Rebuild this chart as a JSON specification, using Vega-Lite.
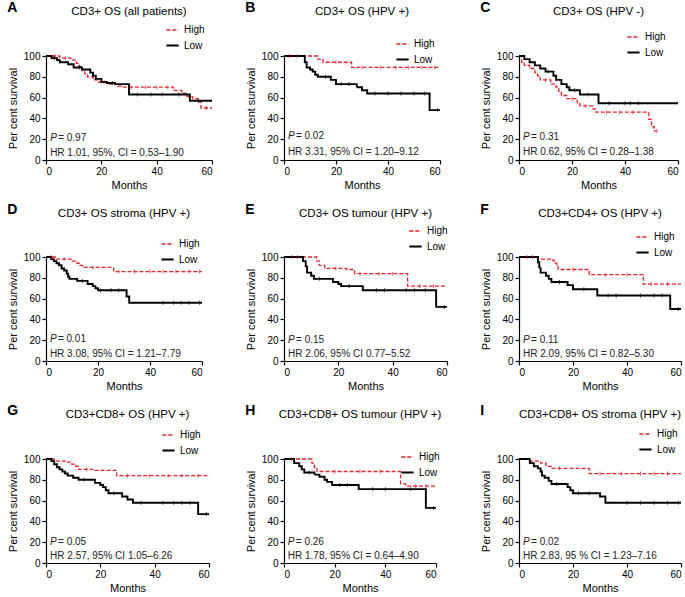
{
"$schema":"https://vega.github.io/schema/vega-lite/v6.json",
"background":"white",
"padding":{"left":7,"top":0,"right":0,"bottom":2},
"columns":3,
"spacing":{"row":12,"column":29},
"resolve":{"scale":{"color":"independent","strokeDash":"independent","strokeWidth":"independent","fill":"independent","x":"independent","y":"independent"},"legend":{"color":"independent","strokeDash":"independent","strokeWidth":"independent"}},
"datasets":{
"km":[
{"p":"A","g":"High","m":0,"s":100},{"p":"A","g":"High","m":5,"s":98},{"p":"A","g":"High","m":9,"s":96},{"p":"A","g":"High","m":11,"s":93},{"p":"A","g":"High","m":12,"s":90},{"p":"A","g":"High","m":13,"s":86},{"p":"A","g":"High","m":14,"s":83},{"p":"A","g":"High","m":15,"s":80},{"p":"A","g":"High","m":17,"s":77},{"p":"A","g":"High","m":19,"s":75},{"p":"A","g":"High","m":23,"s":73},{"p":"A","g":"High","m":26,"s":71},{"p":"A","g":"High","m":28,"s":70},{"p":"A","g":"High","m":46,"s":67},{"p":"A","g":"High","m":49,"s":64},{"p":"A","g":"High","m":51,"s":61},{"p":"A","g":"High","m":53,"s":59},{"p":"A","g":"High","m":55,"s":56},{"p":"A","g":"High","m":56,"s":50},{"p":"A","g":"High","m":60,"s":50},
{"p":"A","g":"Low","m":0,"s":100},{"p":"A","g":"Low","m":2,"s":98},{"p":"A","g":"Low","m":4,"s":96},{"p":"A","g":"Low","m":5,"s":94},{"p":"A","g":"Low","m":8,"s":92},{"p":"A","g":"Low","m":10,"s":89},{"p":"A","g":"Low","m":13,"s":87},{"p":"A","g":"Low","m":16,"s":84},{"p":"A","g":"Low","m":17,"s":81},{"p":"A","g":"Low","m":18,"s":78},{"p":"A","g":"Low","m":20,"s":75},{"p":"A","g":"Low","m":22,"s":74},{"p":"A","g":"Low","m":25,"s":73},{"p":"A","g":"Low","m":30,"s":63},{"p":"A","g":"Low","m":52,"s":57},{"p":"A","g":"Low","m":60,"s":57},
{"p":"B","g":"High","m":0,"s":100},{"p":"B","g":"High","m":13,"s":97},{"p":"B","g":"High","m":15,"s":94},{"p":"B","g":"High","m":26,"s":89},{"p":"B","g":"High","m":60,"s":89},
{"p":"B","g":"Low","m":0,"s":100},{"p":"B","g":"Low","m":8,"s":94},{"p":"B","g":"Low","m":8.7,"s":89},{"p":"B","g":"Low","m":10,"s":87},{"p":"B","g":"Low","m":11,"s":85},{"p":"B","g":"Low","m":12,"s":82},{"p":"B","g":"Low","m":13,"s":80},{"p":"B","g":"Low","m":18,"s":77},{"p":"B","g":"Low","m":20,"s":73},{"p":"B","g":"Low","m":28,"s":70},{"p":"B","g":"Low","m":30,"s":67},{"p":"B","g":"Low","m":32,"s":64},{"p":"B","g":"Low","m":56,"s":48},{"p":"B","g":"Low","m":60,"s":48},
{"p":"C","g":"High","m":0,"s":100},{"p":"C","g":"High","m":1,"s":94},{"p":"C","g":"High","m":2,"s":91},{"p":"C","g":"High","m":4,"s":88},{"p":"C","g":"High","m":6,"s":84},{"p":"C","g":"High","m":7,"s":81},{"p":"C","g":"High","m":8,"s":77},{"p":"C","g":"High","m":12,"s":73},{"p":"C","g":"High","m":14,"s":70},{"p":"C","g":"High","m":15,"s":66},{"p":"C","g":"High","m":16,"s":62},{"p":"C","g":"High","m":18,"s":59},{"p":"C","g":"High","m":22,"s":55},{"p":"C","g":"High","m":23,"s":52},{"p":"C","g":"High","m":28,"s":49},{"p":"C","g":"High","m":29,"s":46},{"p":"C","g":"High","m":49,"s":39},{"p":"C","g":"High","m":50,"s":32},{"p":"C","g":"High","m":51,"s":28},{"p":"C","g":"High","m":52,"s":28},
{"p":"C","g":"Low","m":0,"s":100},{"p":"C","g":"Low","m":2,"s":97},{"p":"C","g":"Low","m":4,"s":94},{"p":"C","g":"Low","m":6,"s":91},{"p":"C","g":"Low","m":8,"s":88},{"p":"C","g":"Low","m":10,"s":85},{"p":"C","g":"Low","m":13,"s":81},{"p":"C","g":"Low","m":14,"s":77},{"p":"C","g":"Low","m":16,"s":73},{"p":"C","g":"Low","m":18,"s":70},{"p":"C","g":"Low","m":19,"s":67},{"p":"C","g":"Low","m":23,"s":63},{"p":"C","g":"Low","m":30,"s":54.5},{"p":"C","g":"Low","m":60,"s":54.5},
{"p":"D","g":"High","m":0,"s":100},{"p":"D","g":"High","m":4,"s":98},{"p":"D","g":"High","m":10,"s":96},{"p":"D","g":"High","m":12,"s":94},{"p":"D","g":"High","m":13,"s":92},{"p":"D","g":"High","m":14,"s":90},{"p":"D","g":"High","m":26,"s":86},{"p":"D","g":"High","m":60,"s":86},
{"p":"D","g":"Low","m":0,"s":100},{"p":"D","g":"Low","m":2,"s":98},{"p":"D","g":"Low","m":3,"s":96},{"p":"D","g":"Low","m":4,"s":94},{"p":"D","g":"Low","m":5,"s":92},{"p":"D","g":"Low","m":6,"s":89},{"p":"D","g":"Low","m":7,"s":87},{"p":"D","g":"Low","m":8,"s":84},{"p":"D","g":"Low","m":8.5,"s":81},{"p":"D","g":"Low","m":9,"s":79},{"p":"D","g":"Low","m":12,"s":77},{"p":"D","g":"Low","m":16,"s":74},{"p":"D","g":"Low","m":18,"s":72},{"p":"D","g":"Low","m":19,"s":70},{"p":"D","g":"Low","m":20,"s":68},{"p":"D","g":"Low","m":31,"s":62},{"p":"D","g":"Low","m":32,"s":56},{"p":"D","g":"Low","m":60,"s":56},
{"p":"E","g":"High","m":0,"s":100},{"p":"E","g":"High","m":12,"s":96},{"p":"E","g":"High","m":13,"s":92},{"p":"E","g":"High","m":15,"s":89},{"p":"E","g":"High","m":23,"s":88},{"p":"E","g":"High","m":26,"s":84},{"p":"E","g":"High","m":45.5,"s":72},{"p":"E","g":"High","m":60,"s":72},
{"p":"E","g":"Low","m":0,"s":100},{"p":"E","g":"Low","m":7,"s":96},{"p":"E","g":"Low","m":8,"s":91},{"p":"E","g":"Low","m":8.5,"s":85},{"p":"E","g":"Low","m":10,"s":82},{"p":"E","g":"Low","m":11,"s":79},{"p":"E","g":"Low","m":18,"s":76},{"p":"E","g":"Low","m":20,"s":74},{"p":"E","g":"Low","m":21,"s":72},{"p":"E","g":"Low","m":29,"s":68},{"p":"E","g":"Low","m":56,"s":52},{"p":"E","g":"Low","m":60,"s":52},
{"p":"F","g":"High","m":0,"s":100},{"p":"F","g":"High","m":7,"s":98},{"p":"F","g":"High","m":12,"s":97},{"p":"F","g":"High","m":13,"s":94},{"p":"F","g":"High","m":14,"s":91},{"p":"F","g":"High","m":14.5,"s":88},{"p":"F","g":"High","m":26,"s":83},{"p":"F","g":"High","m":46,"s":74},{"p":"F","g":"High","m":60,"s":74},
{"p":"F","g":"Low","m":0,"s":100},{"p":"F","g":"Low","m":7,"s":95},{"p":"F","g":"Low","m":7.5,"s":90},{"p":"F","g":"Low","m":8,"s":85},{"p":"F","g":"Low","m":10,"s":82},{"p":"F","g":"Low","m":11,"s":79},{"p":"F","g":"Low","m":12,"s":76},{"p":"F","g":"Low","m":18,"s":73},{"p":"F","g":"Low","m":20,"s":69},{"p":"F","g":"Low","m":29,"s":63},{"p":"F","g":"Low","m":56,"s":50},{"p":"F","g":"Low","m":60,"s":50},
{"p":"G","g":"High","m":0,"s":100},{"p":"G","g":"High","m":3,"s":98},{"p":"G","g":"High","m":7,"s":97},{"p":"G","g":"High","m":9,"s":95},{"p":"G","g":"High","m":11,"s":93},{"p":"G","g":"High","m":12,"s":90},{"p":"G","g":"High","m":18,"s":89},{"p":"G","g":"High","m":26,"s":84},{"p":"G","g":"High","m":60,"s":84},
{"p":"G","g":"Low","m":0,"s":100},{"p":"G","g":"Low","m":2,"s":98},{"p":"G","g":"Low","m":3,"s":95},{"p":"G","g":"Low","m":4,"s":92},{"p":"G","g":"Low","m":5,"s":90},{"p":"G","g":"Low","m":6,"s":88},{"p":"G","g":"Low","m":7,"s":86},{"p":"G","g":"Low","m":8,"s":84},{"p":"G","g":"Low","m":10,"s":82},{"p":"G","g":"Low","m":12,"s":80},{"p":"G","g":"Low","m":18,"s":77},{"p":"G","g":"Low","m":20,"s":75},{"p":"G","g":"Low","m":21,"s":73},{"p":"G","g":"Low","m":22,"s":70},{"p":"G","g":"Low","m":23,"s":67},{"p":"G","g":"Low","m":28,"s":64},{"p":"G","g":"Low","m":30,"s":61},{"p":"G","g":"Low","m":32,"s":58},{"p":"G","g":"Low","m":56,"s":47},{"p":"G","g":"Low","m":60,"s":47},
{"p":"H","g":"High","m":0,"s":100},{"p":"H","g":"High","m":11,"s":96},{"p":"H","g":"High","m":12,"s":92},{"p":"H","g":"High","m":13,"s":88},{"p":"H","g":"High","m":46,"s":76},{"p":"H","g":"High","m":48,"s":74},{"p":"H","g":"High","m":60,"s":74},
{"p":"H","g":"Low","m":0,"s":100},{"p":"H","g":"Low","m":4,"s":96},{"p":"H","g":"Low","m":6,"s":93},{"p":"H","g":"Low","m":7,"s":90},{"p":"H","g":"Low","m":8,"s":87},{"p":"H","g":"Low","m":12,"s":85},{"p":"H","g":"Low","m":14,"s":83},{"p":"H","g":"Low","m":16,"s":80},{"p":"H","g":"Low","m":17,"s":78},{"p":"H","g":"Low","m":19,"s":75},{"p":"H","g":"Low","m":29.5,"s":71},{"p":"H","g":"Low","m":56,"s":53},{"p":"H","g":"Low","m":60,"s":53},
{"p":"I","g":"High","m":0,"s":100},{"p":"I","g":"High","m":4,"s":98},{"p":"I","g":"High","m":8,"s":96},{"p":"I","g":"High","m":10,"s":93},{"p":"I","g":"High","m":12,"s":91},{"p":"I","g":"High","m":26,"s":86},{"p":"I","g":"High","m":60,"s":86},
{"p":"I","g":"Low","m":0,"s":100},{"p":"I","g":"Low","m":4,"s":96},{"p":"I","g":"Low","m":5.5,"s":93},{"p":"I","g":"Low","m":7,"s":91},{"p":"I","g":"Low","m":8,"s":88},{"p":"I","g":"Low","m":8.5,"s":84},{"p":"I","g":"Low","m":9.5,"s":82},{"p":"I","g":"Low","m":11,"s":79},{"p":"I","g":"Low","m":12,"s":76},{"p":"I","g":"Low","m":18,"s":73},{"p":"I","g":"Low","m":19,"s":70},{"p":"I","g":"Low","m":20,"s":67},{"p":"I","g":"Low","m":30,"s":64},{"p":"I","g":"Low","m":32,"s":58},{"p":"I","g":"Low","m":60,"s":58}
],
"cens":[
{"p":"A","g":"High","m":3,"s":100},{"p":"A","g":"High","m":7,"s":98},{"p":"A","g":"High","m":21,"s":75},{"p":"A","g":"High","m":31,"s":70},{"p":"A","g":"High","m":36,"s":70},{"p":"A","g":"High","m":40,"s":70},{"p":"A","g":"High","m":44,"s":70},{"p":"A","g":"High","m":58,"s":50},
{"p":"A","g":"Low","m":3,"s":98},{"p":"A","g":"Low","m":12,"s":89},{"p":"A","g":"Low","m":24,"s":74},{"p":"A","g":"Low","m":33,"s":63},{"p":"A","g":"Low","m":38,"s":63},{"p":"A","g":"Low","m":42,"s":63},{"p":"A","g":"Low","m":48,"s":63},{"p":"A","g":"Low","m":55,"s":57},
{"p":"B","g":"High","m":2,"s":100},{"p":"B","g":"High","m":5,"s":100},{"p":"B","g":"High","m":20,"s":94},{"p":"B","g":"High","m":30,"s":89},{"p":"B","g":"High","m":37,"s":89},{"p":"B","g":"High","m":43,"s":89},{"p":"B","g":"High","m":48,"s":89},{"p":"B","g":"High","m":53,"s":89},{"p":"B","g":"High","m":58,"s":89},
{"p":"B","g":"Low","m":16,"s":80},{"p":"B","g":"Low","m":22,"s":73},{"p":"B","g":"Low","m":25,"s":73},{"p":"B","g":"Low","m":35,"s":64},{"p":"B","g":"Low","m":40,"s":64},{"p":"B","g":"Low","m":45,"s":64},{"p":"B","g":"Low","m":50,"s":64},{"p":"B","g":"Low","m":54,"s":64},{"p":"B","g":"Low","m":59,"s":48},
{"p":"C","g":"High","m":10,"s":77},{"p":"C","g":"High","m":20,"s":59},{"p":"C","g":"High","m":25,"s":52},{"p":"C","g":"High","m":33,"s":46},{"p":"C","g":"High","m":38,"s":46},{"p":"C","g":"High","m":43,"s":46},{"p":"C","g":"High","m":52,"s":28},
{"p":"C","g":"Low","m":11,"s":85},{"p":"C","g":"Low","m":21,"s":67},{"p":"C","g":"Low","m":26,"s":63},{"p":"C","g":"Low","m":34,"s":54.5},{"p":"C","g":"Low","m":40,"s":54.5},{"p":"C","g":"Low","m":42,"s":54.5},{"p":"C","g":"Low","m":45,"s":54.5},
{"p":"D","g":"High","m":2,"s":100},{"p":"D","g":"High","m":7,"s":98},{"p":"D","g":"High","m":18,"s":90},{"p":"D","g":"High","m":28,"s":86},{"p":"D","g":"High","m":34,"s":86},{"p":"D","g":"High","m":40,"s":86},{"p":"D","g":"High","m":45,"s":86},{"p":"D","g":"High","m":50,"s":86},{"p":"D","g":"High","m":55,"s":86},{"p":"D","g":"High","m":59,"s":86},
{"p":"D","g":"Low","m":14,"s":77},{"p":"D","g":"Low","m":21,"s":68},{"p":"D","g":"Low","m":25,"s":68},{"p":"D","g":"Low","m":28,"s":68},{"p":"D","g":"Low","m":45,"s":56},{"p":"D","g":"Low","m":49,"s":56},{"p":"D","g":"Low","m":52,"s":56},{"p":"D","g":"Low","m":55,"s":56},{"p":"D","g":"Low","m":59,"s":56},
{"p":"E","g":"High","m":3,"s":100},{"p":"E","g":"High","m":5,"s":100},{"p":"E","g":"High","m":19,"s":89},{"p":"E","g":"High","m":28,"s":84},{"p":"E","g":"High","m":35,"s":84},{"p":"E","g":"High","m":40,"s":84},{"p":"E","g":"High","m":50,"s":72},{"p":"E","g":"High","m":55,"s":72},
{"p":"E","g":"Low","m":13,"s":79},{"p":"E","g":"Low","m":24,"s":72},{"p":"E","g":"Low","m":34,"s":68},{"p":"E","g":"Low","m":37,"s":68},{"p":"E","g":"Low","m":45,"s":68},{"p":"E","g":"Low","m":48,"s":68},{"p":"E","g":"Low","m":52,"s":68},{"p":"E","g":"Low","m":59,"s":52},
{"p":"F","g":"High","m":3,"s":100},{"p":"F","g":"High","m":5,"s":100},{"p":"F","g":"High","m":20,"s":88},{"p":"F","g":"High","m":32,"s":83},{"p":"F","g":"High","m":40,"s":83},{"p":"F","g":"High","m":49,"s":74},{"p":"F","g":"High","m":55,"s":74},
{"p":"F","g":"Low","m":15,"s":76},{"p":"F","g":"Low","m":24,"s":69},{"p":"F","g":"Low","m":33,"s":63},{"p":"F","g":"Low","m":36,"s":63},{"p":"F","g":"Low","m":45,"s":63},{"p":"F","g":"Low","m":50,"s":63},{"p":"F","g":"Low","m":53,"s":63},{"p":"F","g":"Low","m":59,"s":50},
{"p":"G","g":"High","m":15,"s":90},{"p":"G","g":"High","m":30,"s":84},{"p":"G","g":"High","m":38,"s":84},{"p":"G","g":"High","m":45,"s":84},{"p":"G","g":"High","m":50,"s":84},{"p":"G","g":"High","m":56,"s":84},
{"p":"G","g":"Low","m":14,"s":80},{"p":"G","g":"Low","m":25,"s":67},{"p":"G","g":"Low","m":35,"s":58},{"p":"G","g":"Low","m":43,"s":58},{"p":"G","g":"Low","m":47,"s":58},{"p":"G","g":"Low","m":50,"s":58},{"p":"G","g":"Low","m":53,"s":58},{"p":"G","g":"Low","m":59,"s":47},
{"p":"H","g":"High","m":3,"s":100},{"p":"H","g":"High","m":20,"s":88},{"p":"H","g":"High","m":30,"s":88},{"p":"H","g":"High","m":38,"s":88},{"p":"H","g":"High","m":52,"s":74},{"p":"H","g":"High","m":56,"s":74},
{"p":"H","g":"Low","m":10,"s":87},{"p":"H","g":"Low","m":22,"s":75},{"p":"H","g":"Low","m":25,"s":75},{"p":"H","g":"Low","m":35,"s":71},{"p":"H","g":"Low","m":40,"s":71},{"p":"H","g":"Low","m":50,"s":71},{"p":"H","g":"Low","m":59,"s":53},
{"p":"I","g":"High","m":15,"s":91},{"p":"I","g":"High","m":30,"s":86},{"p":"I","g":"High","m":38,"s":86},{"p":"I","g":"High","m":45,"s":86},{"p":"I","g":"High","m":50,"s":86},{"p":"I","g":"High","m":55,"s":86},
{"p":"I","g":"Low","m":14,"s":76},{"p":"I","g":"Low","m":22,"s":67},{"p":"I","g":"Low","m":26,"s":67},{"p":"I","g":"Low","m":40,"s":58},{"p":"I","g":"Low","m":45,"s":58},{"p":"I","g":"Low","m":50,"s":58},{"p":"I","g":"Low","m":55,"s":58},{"p":"I","g":"Low","m":59,"s":58}
],
"ann":[
{"p":"A","pv":"= 0.97","hr":"HR 1.01,  95%,  CI = 0.53–1.90"},
{"p":"B","pv":"= 0.02","hr":"HR 3.31,   95% CI = 1.20–9.12"},
{"p":"C","pv":"= 0.31","hr":"HR 0.62,    95% CI = 0.28–1.38"},
{"p":"D","pv":"= 0.01","hr":"HR 3.08, 95% CI = 1.21–7.79"},
{"p":"E","pv":"= 0.15","hr":"HR 2.06, 95% CI 0.77–5.52"},
{"p":"F","pv":"= 0.11","hr":"HR 2.09, 95% CI = 0.82–5.30"},
{"p":"G","pv":"= 0.05","hr":"HR 2.57, 95% CI 1.05–6.26"},
{"p":"H","pv":"= 0.26","hr":"HR 1.78, 95% CI = 0.64–4.90"},
{"p":"I","pv":"= 0.02","hr":"HR  2.83, 95 % CI = 1.23–7.16"}
]
},
"concat":[
{"title":{"text":"A","anchor":"start","frame":"bounds","fontSize":14,"fontWeight":"bold","offset":-9},
 "vconcat":[{"width":166,"height":104,"title":{"text":"CD3+ OS (all patients)","offset":34},
 "layer":[
 {"data":{"name":"km"},"transform":[{"filter":"datum.p=='A'"}],"mark":{"type":"line","interpolate":"step-after"},
  "encoding":{"x":{"field":"m","type":"quantitative","scale":{"domain":[0,60],"nice":false},"axis":{"values":[0,20,40,60],"title":"Months","labelOverlap":false}},
   "y":{"field":"s","type":"quantitative","scale":{"domain":[0,100]},"axis":{"tickCount":5,"title":"Per cent survival","labelOverlap":false}},
   "color":{"field":"g","type":"nominal","scale":{"domain":["High","Low"],"range":["#e3232c","#000000"]},"legend":{"title":null,"legendX":119,"legendY":-33}},
   "strokeDash":{"field":"g","type":"nominal","scale":{"domain":["High","Low"],"range":[[4,2],[1,0]]},"legend":{"title":null,"legendX":119,"legendY":-33}},
   "strokeWidth":{"field":"g","type":"nominal","scale":{"domain":["High","Low"],"range":[1.3,1.9]},"legend":{"title":null,"legendX":119,"legendY":-33}}}},
 {"data":{"name":"cens"},"transform":[{"filter":"datum.p=='A'"}],"mark":{"type":"tick","orient":"vertical","size":4,"thickness":1},
  "encoding":{"x":{"field":"m","type":"quantitative"},"y":{"field":"s","type":"quantitative"},"fill":{"field":"g","type":"nominal","scale":{"domain":["High","Low"],"range":["#e3232c","#000000"]},"legend":null}}},
 {"data":{"name":"ann"},"transform":[{"filter":"datum.p=='A'"}],"mark":{"type":"text","align":"left","baseline":"middle","fontStyle":"italic"},"encoding":{"x":{"datum":1.5,"type":"quantitative"},"y":{"datum":21,"type":"quantitative"},"text":{"value":"P"}}},
 {"data":{"name":"ann"},"transform":[{"filter":"datum.p=='A'"}],"mark":{"type":"text","align":"left","baseline":"middle","dx":8},"encoding":{"x":{"datum":1.5,"type":"quantitative"},"y":{"datum":21,"type":"quantitative"},"text":{"field":"pv"}}},
 {"data":{"name":"ann"},"transform":[{"filter":"datum.p=='A'"}],"mark":{"type":"text","align":"left","baseline":"middle"},"encoding":{"x":{"datum":1.5,"type":"quantitative"},"y":{"datum":7,"type":"quantitative"},"text":{"field":"hr"}}}
 ]}]},
{"title":{"text":"B","anchor":"start","frame":"bounds","fontSize":14,"fontWeight":"bold","offset":-9},
 "vconcat":[{"width":156,"height":104,"title":{"text":"CD3+ OS (HPV +)","offset":34},
 "layer":[
 {"data":{"name":"km"},"transform":[{"filter":"datum.p=='B'"}],"mark":{"type":"line","interpolate":"step-after"},
  "encoding":{"x":{"field":"m","type":"quantitative","scale":{"domain":[0,60],"nice":false},"axis":{"values":[0,20,40,60],"title":"Months","labelOverlap":false}},
   "y":{"field":"s","type":"quantitative","scale":{"domain":[0,100]},"axis":{"tickCount":5,"title":"Per cent survival","labelOverlap":false}},
   "color":{"field":"g","type":"nominal","scale":{"domain":["High","Low"],"range":["#e3232c","#000000"]},"legend":{"title":null,"legendX":111,"legendY":-19}},
   "strokeDash":{"field":"g","type":"nominal","scale":{"domain":["High","Low"],"range":[[4,2],[1,0]]},"legend":{"title":null,"legendX":111,"legendY":-19}},
   "strokeWidth":{"field":"g","type":"nominal","scale":{"domain":["High","Low"],"range":[1.3,1.9]},"legend":{"title":null,"legendX":111,"legendY":-19}}}},
 {"data":{"name":"cens"},"transform":[{"filter":"datum.p=='B'"}],"mark":{"type":"tick","orient":"vertical","size":4,"thickness":1},
  "encoding":{"x":{"field":"m","type":"quantitative"},"y":{"field":"s","type":"quantitative"},"fill":{"field":"g","type":"nominal","scale":{"domain":["High","Low"],"range":["#e3232c","#000000"]},"legend":null}}},
 {"data":{"name":"ann"},"transform":[{"filter":"datum.p=='B'"}],"mark":{"type":"text","align":"left","baseline":"middle","fontStyle":"italic"},"encoding":{"x":{"datum":1.5,"type":"quantitative"},"y":{"datum":23,"type":"quantitative"},"text":{"value":"P"}}},
 {"data":{"name":"ann"},"transform":[{"filter":"datum.p=='B'"}],"mark":{"type":"text","align":"left","baseline":"middle","dx":8},"encoding":{"x":{"datum":1.5,"type":"quantitative"},"y":{"datum":23,"type":"quantitative"},"text":{"field":"pv"}}},
 {"data":{"name":"ann"},"transform":[{"filter":"datum.p=='B'"}],"mark":{"type":"text","align":"left","baseline":"middle"},"encoding":{"x":{"datum":1.5,"type":"quantitative"},"y":{"datum":8,"type":"quantitative"},"text":{"field":"hr"}}}
 ]}]},
{"title":{"text":"C","anchor":"start","frame":"bounds","fontSize":14,"fontWeight":"bold","offset":-9},
 "vconcat":[{"width":159,"height":104,"title":{"text":"CD3+ OS (HPV -)","offset":34},
 "layer":[
 {"data":{"name":"km"},"transform":[{"filter":"datum.p=='C'"}],"mark":{"type":"line","interpolate":"step-after"},
  "encoding":{"x":{"field":"m","type":"quantitative","scale":{"domain":[0,60],"nice":false},"axis":{"values":[0,20,40,60],"title":"Months","labelOverlap":false}},
   "y":{"field":"s","type":"quantitative","scale":{"domain":[0,100]},"axis":{"tickCount":5,"title":"Per cent survival","labelOverlap":false}},
   "color":{"field":"g","type":"nominal","scale":{"domain":["High","Low"],"range":["#e3232c","#000000"]},"legend":{"title":null,"legendX":107,"legendY":-26}},
   "strokeDash":{"field":"g","type":"nominal","scale":{"domain":["High","Low"],"range":[[4,2],[1,0]]},"legend":{"title":null,"legendX":107,"legendY":-26}},
   "strokeWidth":{"field":"g","type":"nominal","scale":{"domain":["High","Low"],"range":[1.3,1.9]},"legend":{"title":null,"legendX":107,"legendY":-26}}}},
 {"data":{"name":"cens"},"transform":[{"filter":"datum.p=='C'"}],"mark":{"type":"tick","orient":"vertical","size":4,"thickness":1},
  "encoding":{"x":{"field":"m","type":"quantitative"},"y":{"field":"s","type":"quantitative"},"fill":{"field":"g","type":"nominal","scale":{"domain":["High","Low"],"range":["#e3232c","#000000"]},"legend":null}}},
 {"data":{"name":"ann"},"transform":[{"filter":"datum.p=='C'"}],"mark":{"type":"text","align":"left","baseline":"middle","fontStyle":"italic"},"encoding":{"x":{"datum":1.5,"type":"quantitative"},"y":{"datum":22,"type":"quantitative"},"text":{"value":"P"}}},
 {"data":{"name":"ann"},"transform":[{"filter":"datum.p=='C'"}],"mark":{"type":"text","align":"left","baseline":"middle","dx":8},"encoding":{"x":{"datum":1.5,"type":"quantitative"},"y":{"datum":22,"type":"quantitative"},"text":{"field":"pv"}}},
 {"data":{"name":"ann"},"transform":[{"filter":"datum.p=='C'"}],"mark":{"type":"text","align":"left","baseline":"middle"},"encoding":{"x":{"datum":1.5,"type":"quantitative"},"y":{"datum":8,"type":"quantitative"},"text":{"field":"hr"}}}
 ]}]},
{"title":{"text":"D","anchor":"start","frame":"bounds","fontSize":14,"fontWeight":"bold","offset":-9},
 "vconcat":[{"width":156,"height":104,"title":{"text":"CD3+ OS stroma (HPV +)","offset":33},
 "layer":[
 {"data":{"name":"km"},"transform":[{"filter":"datum.p=='D'"}],"mark":{"type":"line","interpolate":"step-after"},
  "encoding":{"x":{"field":"m","type":"quantitative","scale":{"domain":[0,60],"nice":false},"axis":{"values":[0,20,40,60],"title":"Months","labelOverlap":false}},
   "y":{"field":"s","type":"quantitative","scale":{"domain":[0,100]},"axis":{"tickCount":5,"title":"Per cent survival","labelOverlap":false}},
   "color":{"field":"g","type":"nominal","scale":{"domain":["High","Low"],"range":["#e3232c","#000000"]},"legend":{"title":null,"legendX":114,"legendY":-20}},
   "strokeDash":{"field":"g","type":"nominal","scale":{"domain":["High","Low"],"range":[[4,2],[1,0]]},"legend":{"title":null,"legendX":114,"legendY":-20}},
   "strokeWidth":{"field":"g","type":"nominal","scale":{"domain":["High","Low"],"range":[1.3,1.9]},"legend":{"title":null,"legendX":114,"legendY":-20}}}},
 {"data":{"name":"cens"},"transform":[{"filter":"datum.p=='D'"}],"mark":{"type":"tick","orient":"vertical","size":4,"thickness":1},
  "encoding":{"x":{"field":"m","type":"quantitative"},"y":{"field":"s","type":"quantitative"},"fill":{"field":"g","type":"nominal","scale":{"domain":["High","Low"],"range":["#e3232c","#000000"]},"legend":null}}},
 {"data":{"name":"ann"},"transform":[{"filter":"datum.p=='D'"}],"mark":{"type":"text","align":"left","baseline":"middle","fontStyle":"italic"},"encoding":{"x":{"datum":1.5,"type":"quantitative"},"y":{"datum":21,"type":"quantitative"},"text":{"value":"P"}}},
 {"data":{"name":"ann"},"transform":[{"filter":"datum.p=='D'"}],"mark":{"type":"text","align":"left","baseline":"middle","dx":8},"encoding":{"x":{"datum":1.5,"type":"quantitative"},"y":{"datum":21,"type":"quantitative"},"text":{"field":"pv"}}},
 {"data":{"name":"ann"},"transform":[{"filter":"datum.p=='D'"}],"mark":{"type":"text","align":"left","baseline":"middle"},"encoding":{"x":{"datum":1.5,"type":"quantitative"},"y":{"datum":7,"type":"quantitative"},"text":{"field":"hr"}}}
 ]}]},
{"title":{"text":"E","anchor":"start","frame":"bounds","fontSize":14,"fontWeight":"bold","offset":-9},
 "vconcat":[{"width":163,"height":104,"title":{"text":"CD3+ OS tumour (HPV +)","offset":33},
 "layer":[
 {"data":{"name":"km"},"transform":[{"filter":"datum.p=='E'"}],"mark":{"type":"line","interpolate":"step-after"},
  "encoding":{"x":{"field":"m","type":"quantitative","scale":{"domain":[0,60],"nice":false},"axis":{"values":[0,20,40,60],"title":"Months","labelOverlap":false}},
   "y":{"field":"s","type":"quantitative","scale":{"domain":[0,100]},"axis":{"tickCount":5,"title":"Per cent survival","labelOverlap":false}},
   "color":{"field":"g","type":"nominal","scale":{"domain":["High","Low"],"range":["#e3232c","#000000"]},"legend":{"title":null,"legendX":124,"legendY":-33}},
   "strokeDash":{"field":"g","type":"nominal","scale":{"domain":["High","Low"],"range":[[4,2],[1,0]]},"legend":{"title":null,"legendX":124,"legendY":-33}},
   "strokeWidth":{"field":"g","type":"nominal","scale":{"domain":["High","Low"],"range":[1.3,1.9]},"legend":{"title":null,"legendX":124,"legendY":-33}}}},
 {"data":{"name":"cens"},"transform":[{"filter":"datum.p=='E'"}],"mark":{"type":"tick","orient":"vertical","size":4,"thickness":1},
  "encoding":{"x":{"field":"m","type":"quantitative"},"y":{"field":"s","type":"quantitative"},"fill":{"field":"g","type":"nominal","scale":{"domain":["High","Low"],"range":["#e3232c","#000000"]},"legend":null}}},
 {"data":{"name":"ann"},"transform":[{"filter":"datum.p=='E'"}],"mark":{"type":"text","align":"left","baseline":"middle","fontStyle":"italic"},"encoding":{"x":{"datum":1.5,"type":"quantitative"},"y":{"datum":20,"type":"quantitative"},"text":{"value":"P"}}},
 {"data":{"name":"ann"},"transform":[{"filter":"datum.p=='E'"}],"mark":{"type":"text","align":"left","baseline":"middle","dx":8},"encoding":{"x":{"datum":1.5,"type":"quantitative"},"y":{"datum":20,"type":"quantitative"},"text":{"field":"pv"}}},
 {"data":{"name":"ann"},"transform":[{"filter":"datum.p=='E'"}],"mark":{"type":"text","align":"left","baseline":"middle"},"encoding":{"x":{"datum":1.5,"type":"quantitative"},"y":{"datum":7,"type":"quantitative"},"text":{"field":"hr"}}}
 ]}]},
{"title":{"text":"F","anchor":"start","frame":"bounds","fontSize":14,"fontWeight":"bold","offset":-9},
 "vconcat":[{"width":162,"height":104,"title":{"text":"CD3+CD4+ OS (HPV +)","offset":33},
 "layer":[
 {"data":{"name":"km"},"transform":[{"filter":"datum.p=='F'"}],"mark":{"type":"line","interpolate":"step-after"},
  "encoding":{"x":{"field":"m","type":"quantitative","scale":{"domain":[0,60],"nice":false},"axis":{"values":[0,20,40,60],"title":"Months","labelOverlap":false}},
   "y":{"field":"s","type":"quantitative","scale":{"domain":[0,100]},"axis":{"tickCount":5,"title":"Per cent survival","labelOverlap":false}},
   "color":{"field":"g","type":"nominal","scale":{"domain":["High","Low"],"range":["#e3232c","#000000"]},"legend":{"title":null,"legendX":116,"legendY":-27}},
   "strokeDash":{"field":"g","type":"nominal","scale":{"domain":["High","Low"],"range":[[4,2],[1,0]]},"legend":{"title":null,"legendX":116,"legendY":-27}},
   "strokeWidth":{"field":"g","type":"nominal","scale":{"domain":["High","Low"],"range":[1.3,1.9]},"legend":{"title":null,"legendX":116,"legendY":-27}}}},
 {"data":{"name":"cens"},"transform":[{"filter":"datum.p=='F'"}],"mark":{"type":"tick","orient":"vertical","size":4,"thickness":1},
  "encoding":{"x":{"field":"m","type":"quantitative"},"y":{"field":"s","type":"quantitative"},"fill":{"field":"g","type":"nominal","scale":{"domain":["High","Low"],"range":["#e3232c","#000000"]},"legend":null}}},
 {"data":{"name":"ann"},"transform":[{"filter":"datum.p=='F'"}],"mark":{"type":"text","align":"left","baseline":"middle","fontStyle":"italic"},"encoding":{"x":{"datum":1.5,"type":"quantitative"},"y":{"datum":20,"type":"quantitative"},"text":{"value":"P"}}},
 {"data":{"name":"ann"},"transform":[{"filter":"datum.p=='F'"}],"mark":{"type":"text","align":"left","baseline":"middle","dx":8},"encoding":{"x":{"datum":1.5,"type":"quantitative"},"y":{"datum":20,"type":"quantitative"},"text":{"field":"pv"}}},
 {"data":{"name":"ann"},"transform":[{"filter":"datum.p=='F'"}],"mark":{"type":"text","align":"left","baseline":"middle"},"encoding":{"x":{"datum":1.5,"type":"quantitative"},"y":{"datum":7,"type":"quantitative"},"text":{"field":"hr"}}}
 ]}]},
{"title":{"text":"G","anchor":"start","frame":"bounds","fontSize":14,"fontWeight":"bold","offset":-9},
 "vconcat":[{"width":163,"height":104,"title":{"text":"CD3+CD8+ OS (HPV +)","offset":34},
 "layer":[
 {"data":{"name":"km"},"transform":[{"filter":"datum.p=='G'"}],"mark":{"type":"line","interpolate":"step-after"},
  "encoding":{"x":{"field":"m","type":"quantitative","scale":{"domain":[0,60],"nice":false},"axis":{"values":[0,20,40,60],"title":"Months","labelOverlap":false}},
   "y":{"field":"s","type":"quantitative","scale":{"domain":[0,100]},"axis":{"tickCount":5,"title":"Per cent survival","labelOverlap":false}},
   "color":{"field":"g","type":"nominal","scale":{"domain":["High","Low"],"range":["#e3232c","#000000"]},"legend":{"title":null,"legendX":115,"legendY":-31}},
   "strokeDash":{"field":"g","type":"nominal","scale":{"domain":["High","Low"],"range":[[4,2],[1,0]]},"legend":{"title":null,"legendX":115,"legendY":-31}},
   "strokeWidth":{"field":"g","type":"nominal","scale":{"domain":["High","Low"],"range":[1.3,1.9]},"legend":{"title":null,"legendX":115,"legendY":-31}}}},
 {"data":{"name":"cens"},"transform":[{"filter":"datum.p=='G'"}],"mark":{"type":"tick","orient":"vertical","size":4,"thickness":1},
  "encoding":{"x":{"field":"m","type":"quantitative"},"y":{"field":"s","type":"quantitative"},"fill":{"field":"g","type":"nominal","scale":{"domain":["High","Low"],"range":["#e3232c","#000000"]},"legend":null}}},
 {"data":{"name":"ann"},"transform":[{"filter":"datum.p=='G'"}],"mark":{"type":"text","align":"left","baseline":"middle","fontStyle":"italic"},"encoding":{"x":{"datum":1.5,"type":"quantitative"},"y":{"datum":20,"type":"quantitative"},"text":{"value":"P"}}},
 {"data":{"name":"ann"},"transform":[{"filter":"datum.p=='G'"}],"mark":{"type":"text","align":"left","baseline":"middle","dx":8},"encoding":{"x":{"datum":1.5,"type":"quantitative"},"y":{"datum":20,"type":"quantitative"},"text":{"field":"pv"}}},
 {"data":{"name":"ann"},"transform":[{"filter":"datum.p=='G'"}],"mark":{"type":"text","align":"left","baseline":"middle"},"encoding":{"x":{"datum":1.5,"type":"quantitative"},"y":{"datum":7,"type":"quantitative"},"text":{"field":"hr"}}}
 ]}]},
{"title":{"text":"H","anchor":"start","frame":"bounds","fontSize":14,"fontWeight":"bold","offset":-9},
 "vconcat":[{"width":152,"height":104,"title":{"text":"CD3+CD8+ OS tumour (HPV +)","offset":34},
 "layer":[
 {"data":{"name":"km"},"transform":[{"filter":"datum.p=='H'"}],"mark":{"type":"line","interpolate":"step-after"},
  "encoding":{"x":{"field":"m","type":"quantitative","scale":{"domain":[0,60],"nice":false},"axis":{"values":[0,20,40,60],"title":"Months","labelOverlap":false}},
   "y":{"field":"s","type":"quantitative","scale":{"domain":[0,100]},"axis":{"tickCount":5,"title":"Per cent survival","labelOverlap":false}},
   "color":{"field":"g","type":"nominal","scale":{"domain":["High","Low"],"range":["#e3232c","#000000"]},"legend":{"title":null,"legendX":116,"legendY":-9}},
   "strokeDash":{"field":"g","type":"nominal","scale":{"domain":["High","Low"],"range":[[4,2],[1,0]]},"legend":{"title":null,"legendX":116,"legendY":-9}},
   "strokeWidth":{"field":"g","type":"nominal","scale":{"domain":["High","Low"],"range":[1.3,1.9]},"legend":{"title":null,"legendX":116,"legendY":-9}}}},
 {"data":{"name":"cens"},"transform":[{"filter":"datum.p=='H'"}],"mark":{"type":"tick","orient":"vertical","size":4,"thickness":1},
  "encoding":{"x":{"field":"m","type":"quantitative"},"y":{"field":"s","type":"quantitative"},"fill":{"field":"g","type":"nominal","scale":{"domain":["High","Low"],"range":["#e3232c","#000000"]},"legend":null}}},
 {"data":{"name":"ann"},"transform":[{"filter":"datum.p=='H'"}],"mark":{"type":"text","align":"left","baseline":"middle","fontStyle":"italic"},"encoding":{"x":{"datum":1.5,"type":"quantitative"},"y":{"datum":20,"type":"quantitative"},"text":{"value":"P"}}},
 {"data":{"name":"ann"},"transform":[{"filter":"datum.p=='H'"}],"mark":{"type":"text","align":"left","baseline":"middle","dx":8},"encoding":{"x":{"datum":1.5,"type":"quantitative"},"y":{"datum":20,"type":"quantitative"},"text":{"field":"pv"}}},
 {"data":{"name":"ann"},"transform":[{"filter":"datum.p=='H'"}],"mark":{"type":"text","align":"left","baseline":"middle"},"encoding":{"x":{"datum":1.5,"type":"quantitative"},"y":{"datum":7,"type":"quantitative"},"text":{"field":"hr"}}}
 ]}]},
{"title":{"text":"I","anchor":"start","frame":"bounds","fontSize":14,"fontWeight":"bold","offset":-9},
 "vconcat":[{"width":162,"height":104,"title":{"text":"CD3+CD8+ OS  stroma (HPV +)","offset":34},
 "layer":[
 {"data":{"name":"km"},"transform":[{"filter":"datum.p=='I'"}],"mark":{"type":"line","interpolate":"step-after"},
  "encoding":{"x":{"field":"m","type":"quantitative","scale":{"domain":[0,60],"nice":false},"axis":{"values":[0,20,40,60],"title":"Months","labelOverlap":false}},
   "y":{"field":"s","type":"quantitative","scale":{"domain":[0,100]},"axis":{"tickCount":5,"title":"Per cent survival","labelOverlap":false}},
   "color":{"field":"g","type":"nominal","scale":{"domain":["High","Low"],"range":["#e3232c","#000000"]},"legend":{"title":null,"legendX":119,"legendY":-32}},
   "strokeDash":{"field":"g","type":"nominal","scale":{"domain":["High","Low"],"range":[[4,2],[1,0]]},"legend":{"title":null,"legendX":119,"legendY":-32}},
   "strokeWidth":{"field":"g","type":"nominal","scale":{"domain":["High","Low"],"range":[1.3,1.9]},"legend":{"title":null,"legendX":119,"legendY":-32}}}},
 {"data":{"name":"cens"},"transform":[{"filter":"datum.p=='I'"}],"mark":{"type":"tick","orient":"vertical","size":4,"thickness":1},
  "encoding":{"x":{"field":"m","type":"quantitative"},"y":{"field":"s","type":"quantitative"},"fill":{"field":"g","type":"nominal","scale":{"domain":["High","Low"],"range":["#e3232c","#000000"]},"legend":null}}},
 {"data":{"name":"ann"},"transform":[{"filter":"datum.p=='I'"}],"mark":{"type":"text","align":"left","baseline":"middle","fontStyle":"italic"},"encoding":{"x":{"datum":1.5,"type":"quantitative"},"y":{"datum":20,"type":"quantitative"},"text":{"value":"P"}}},
 {"data":{"name":"ann"},"transform":[{"filter":"datum.p=='I'"}],"mark":{"type":"text","align":"left","baseline":"middle","dx":8},"encoding":{"x":{"datum":1.5,"type":"quantitative"},"y":{"datum":20,"type":"quantitative"},"text":{"field":"pv"}}},
 {"data":{"name":"ann"},"transform":[{"filter":"datum.p=='I'"}],"mark":{"type":"text","align":"left","baseline":"middle"},"encoding":{"x":{"datum":1.5,"type":"quantitative"},"y":{"datum":7,"type":"quantitative"},"text":{"field":"hr"}}}
 ]}]}
],
"config":{
 "font":"Liberation Sans",
 "view":{"stroke":null},
 "axis":{"grid":false,"domainColor":"#000000","tickColor":"#000000","labelColor":"#000000","titleColor":"#000000","labelFont":"Liberation Sans","titleFont":"Liberation Sans","labelFontSize":10,"titleFontSize":11,"titleFontWeight":"normal","tickSize":4,"labelPadding":2,"domainWidth":1.2,"tickWidth":1.2,"labelOverlap":false},
 "axisY":{"titlePadding":5},
 "axisX":{"titlePadding":3},
 "title":{"font":"Liberation Sans","fontSize":11.5,"fontWeight":"normal","color":"#000000"},
 "legend":{"orient":"none","labelFont":"Liberation Sans","labelFontSize":10,"labelColor":"#000000","symbolType":"stroke","symbolSize":150,"rowPadding":3,"labelOffset":4,"padding":0},
 "text":{"font":"Liberation Sans","fontSize":10,"color":"#222222"}
}
}
